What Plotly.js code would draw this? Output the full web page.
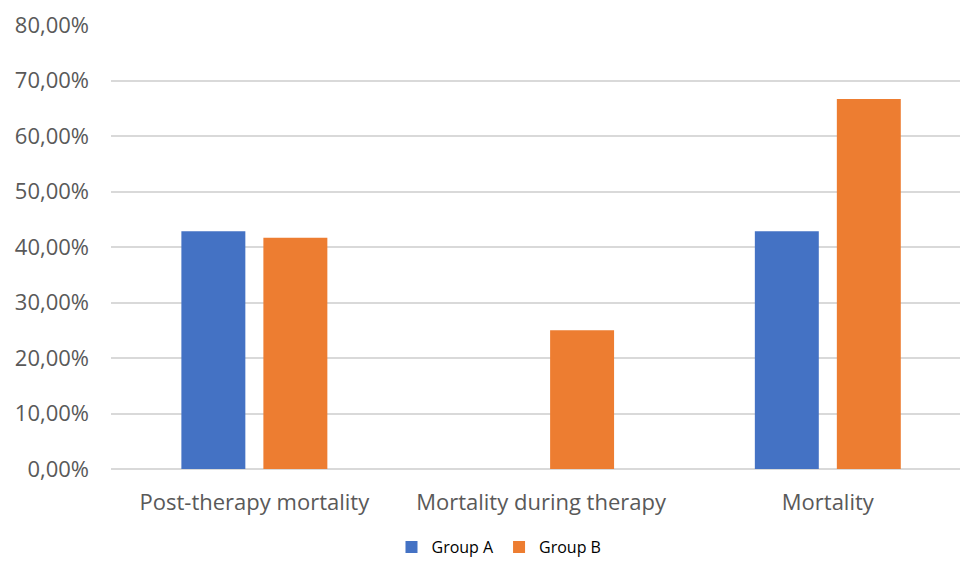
<!DOCTYPE html>
<html>
<head>
<meta charset="utf-8">
<script src="https://cdn.plot.ly/plotly-3.0.1.min.js"></script>
<style>html,body{margin:0;padding:0;background:#fff;}#chart{width:960px;height:564px;}</style>
</head>
<body>
<div id="chart"></div>
<script>
var categories = ["Post-therapy mortality", "Mortality during therapy", "Mortality"];
var groupA = [0.4286, 0, 0.4286];
var groupB = [0.4167, 0.25, 0.6667];
var tickVals = [0, 0.1, 0.2, 0.3, 0.4, 0.5, 0.6, 0.7, 0.8];
var tickText = ["0,00%", "10,00%", "20,00%", "30,00%", "40,00%", "50,00%", "60,00%", "70,00%", "80,00%"];

var traces = [
  {type: "bar", name: "Group A", x: categories, y: groupA, marker: {color: "#4472C4"}},
  {type: "bar", name: "Group B", x: categories, y: groupB, marker: {color: "#ED7D31"}}
];
var layout = {
  width: 960, height: 564,
  margin: {l: 111, r: 0, t: 25, b: 95, autoexpand: false},
  paper_bgcolor: "#fff", plot_bgcolor: "#fff",
  font: {family: "Open Sans, Liberation Sans, sans-serif", color: "#595959"},
  barmode: "group", bargap: 0.428, bargroupgap: 0.22,
  xaxis: {type: "category", range: [-0.5, 2.461], tickfont: {size: 22, color: "#595959"}, showgrid: false, showline: false, ticks: "", ticklabelstandoff: 18, fixedrange: true, automargin: false},
  yaxis: {range: [0, 0.8], tickvals: tickVals, ticktext: tickText, tickfont: {size: 22, color: "#595959"},
          showgrid: true, gridcolor: "#d9d9d9", gridwidth: 2, zeroline: true, zerolinecolor: "#d9d9d9", zerolinewidth: 2,
          ticks: "", ticklabelstandoff: 21, fixedrange: true, automargin: false},
  showlegend: true,
  legend: {orientation: "h", x: 0.457, xanchor: "center", yref: "container", y: 0, yanchor: "bottom", font: {size: 16, color: "#000"}, itemwidth: 30},
  hovermode: false
};
Plotly.newPlot("chart", traces, layout, {staticPlot: true});
</script>
</body>
</html>
